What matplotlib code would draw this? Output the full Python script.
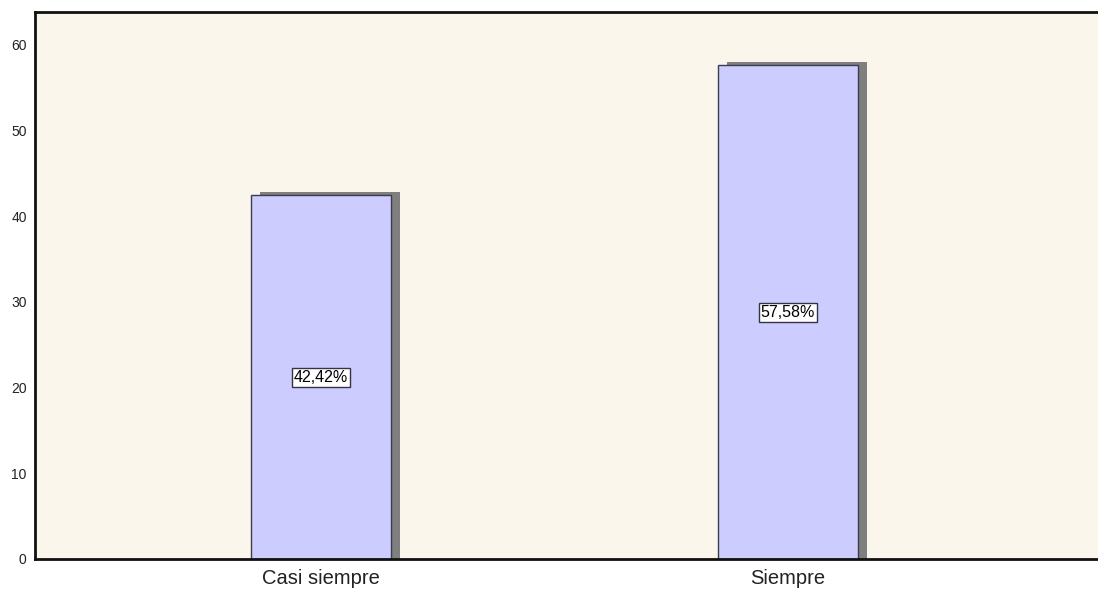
import matplotlib
matplotlib.use("Agg")
import matplotlib.pyplot as plt
from matplotlib.transforms import ScaledTranslation

categories = ["Casi siempre", "Siempre"]
percentages = [42.42, 57.58]
value_labels = ["42,42%", "57,58%"]
yticks = [0, 10, 20, 30, 40, 50, 60]

plt.rcParams['font.family'] = ['Liberation Sans', 'DejaVu Sans']

W, H = 1098, 594
fig = plt.figure(figsize=(W / 100, H / 100), dpi=100)
ax = fig.add_axes([35 / W, (H - 559) / H, (W - 35) / W, (559 - 12) / H])
ax.set_facecolor('#FAF6EB')

x = list(range(len(categories)))
bw = 0.30

shadow_xy = ax.transData + ScaledTranslation(9 / 100, 3 / 100, fig.dpi_scale_trans)
shadow_x = ax.transData + ScaledTranslation(9 / 100, 0, fig.dpi_scale_trans)
ax.bar(x, percentages, width=bw, color='#7F7F7F', edgecolor='none', transform=shadow_xy, zorder=1)
ax.bar(x, percentages, width=bw, color='#7F7F7F', edgecolor='none', transform=shadow_x, zorder=1)
ax.bar(x, percentages, width=bw, color='#CCCCFF', edgecolor='#3C3C50', linewidth=1.0, zorder=2)

for xi, v, lab in zip(x, percentages, value_labels):
    ax.text(xi, v / 2, lab, ha='center', va='center', fontsize=11.5, zorder=3,
            bbox=dict(boxstyle='square,pad=0.12', facecolor='white', edgecolor='#333344', linewidth=1.0))

ax.set_xlim(-0.612, 1.664)
ax.set_ylim(0, 63.8)
ax.set_yticks(yticks)
ax.set_yticklabels([str(t) for t in yticks], fontsize=10, color='#222222')
ax.set_xticks(x)
ax.set_xticklabels(categories, fontsize=14.5, color='#222222')
ax.tick_params(axis='both', length=0)
ax.tick_params(axis='y', pad=6)
ax.tick_params(axis='x', pad=7)

for s in ['left', 'bottom', 'top']:
    ax.spines[s].set_linewidth(2)
    ax.spines[s].set_color('#111111')
ax.spines['right'].set_visible(False)

fig.savefig('out.png', dpi=100)
